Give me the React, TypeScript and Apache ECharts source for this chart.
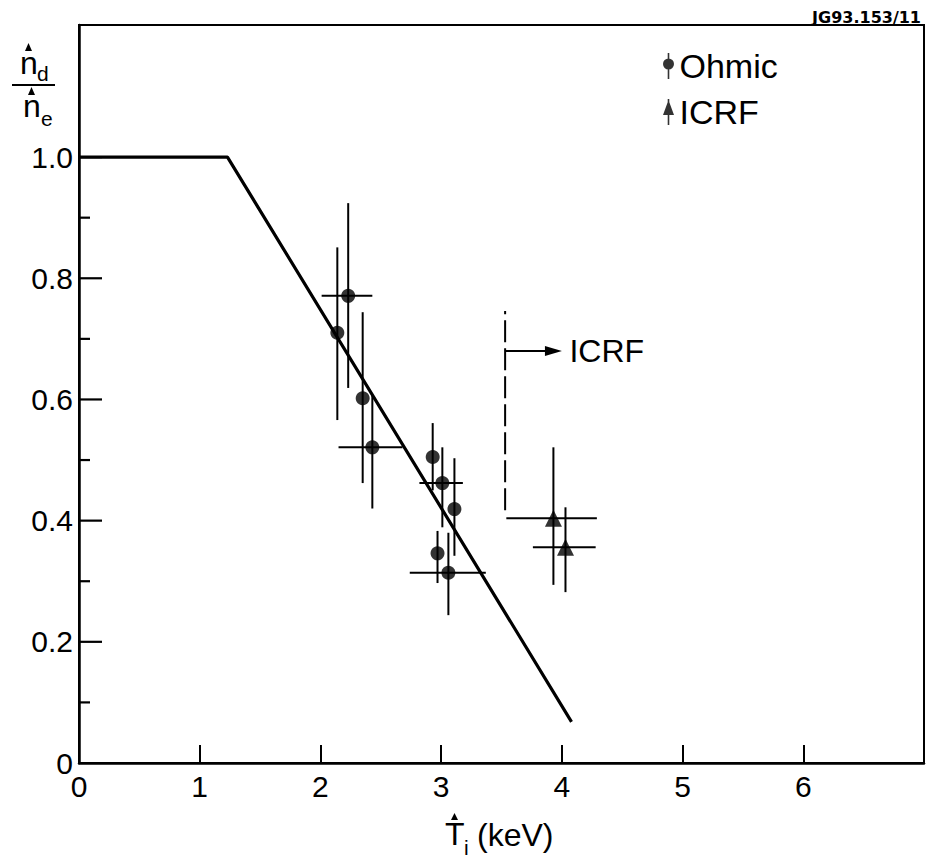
import React, { useEffect, useRef } from "react";
import * as echarts from "echarts";

// ---- data ----
const xTicks = [0, 1, 2, 3, 4, 5, 6];
const yLabelTicks = [0, 0.2, 0.4, 0.6, 0.8, 1.0];
const yMajorTicks = [0.2, 0.4, 0.6, 0.8, 1.0];
const yMinorTicks = [0.1, 0.3, 0.5, 0.7, 0.9];

// model line (n_d/n_e vs T_i)
const lineTi = [0, 1.23, 4.08];
const lineRatio = [1.0, 1.0, 0.068];

// Ohmic points
const ohmicTi = [2.23, 2.14, 2.35, 2.43, 2.93, 3.01, 3.11, 2.97, 3.06];
const ohmicRatio = [0.771, 0.71, 0.602, 0.521, 0.505, 0.462, 0.419, 0.346, 0.314];
const ohmicRatioLo = [0.619, 0.566, 0.462, 0.42, 0.45, 0.389, 0.342, 0.297, 0.244];
const ohmicRatioHi = [0.924, 0.851, 0.744, 0.607, 0.561, 0.521, 0.503, 0.383, 0.38];
const ohmicTiLo = [2.01, null, null, 2.15, null, 2.82, null, null, 2.74];
const ohmicTiHi = [2.43, null, null, 2.68, null, 3.18, null, null, 3.37];

// ICRF points
const icrfTi = [3.93, 4.03];
const icrfRatio = [0.404, 0.356];
const icrfRatioLo = [0.294, 0.282];
const icrfRatioHi = [0.521, 0.422];
const icrfTiLo = [3.54, 3.76];
const icrfTiHi = [4.29, 4.28];

// ICRF threshold annotation
const markTi = [3.53, 3.53];
const markRatio = [0.417, 0.746];
const arrowTi = [3.53, 3.93];
const arrowRatio = [0.68, 0.68];

const FONT = '"Liberation Sans", Arial, Helvetica, sans-serif';

function rows(x: number[], y: number[], ylo: number[], yhi: number[], xlo: (number | null)[], xhi: (number | null)[]) {
  return x.map((v, i) => [v, y[i], ylo[i], yhi[i], xlo[i] == null ? NaN : xlo[i], xhi[i] == null ? NaN : xhi[i]]);
}

function errorRender(params: any, api: any) {
  const x = api.value(0);
  const y = api.value(1);
  const ylo = api.value(2);
  const yhi = api.value(3);
  const xlo = api.value(4);
  const xhi = api.value(5);
  const children: any[] = [];
  const a = api.coord([x, ylo]);
  const b = api.coord([x, yhi]);
  children.push({
    type: "line",
    shape: { x1: a[0], y1: a[1], x2: b[0], y2: b[1] },
    style: { stroke: "#000", lineWidth: 2 },
  });
  if (Number.isFinite(xlo) && Number.isFinite(xhi)) {
    const c = api.coord([xlo, y]);
    const d = api.coord([xhi, y]);
    children.push({
      type: "line",
      shape: { x1: c[0], y1: c[1], x2: d[0], y2: d[1] },
      style: { stroke: "#000", lineWidth: 2 },
    });
  }
  return { type: "group", children };
}

// all y ticks in one custom series: [xAtAxis, value, isMajor]
const yTickRows = [
  ...yMajorTicks.map((v) => [0, v, 1]),
  ...yMinorTicks.map((v) => [0, v, 0]),
];

function tickRender(params: any, api: any) {
  const p = api.coord([api.value(0), api.value(1)]);
  const len = api.value(2) === 1 ? 23 : 11;
  return {
    type: "line",
    shape: { x1: p[0], y1: p[1], x2: p[0] + len, y2: p[1] },
    style: { stroke: "#000", lineWidth: 2.2 },
  };
}

const ohmicIcon = "path://M5.2 0H6.8V26H5.2Z M0.5 11A5.5 5.5 0 1 1 11.5 11A5.5 5.5 0 1 1 0.5 11Z";
const icrfIcon = "path://M5.2 0H6.8V26H5.2Z M6 1L11.5 16H0.5Z";

export default function App() {
  const ref = useRef<HTMLDivElement>(null);
  useEffect(() => {
    if (!ref.current) return;
    const chart = echarts.init(ref.current, null, { renderer: "svg" });
    const option: any = {
      animation: false,
      backgroundColor: "#fff",
      grid: {
        left: 79,
        right: 2,
        top: 25,
        bottom: 99,
        show: true,
        borderColor: "#000",
        borderWidth: 2,
        containLabel: false,
      },
      legend: {
        orient: "vertical",
        left: 658,
        top: 44,
        itemWidth: 12,
        itemHeight: 26,
        itemGap: 12,
        textStyle: { fontSize: 34, fontFamily: FONT, color: "#000", lineHeight: 32 },
        data: [
          { name: "Ohmic", icon: ohmicIcon },
          { name: "ICRF", icon: icrfIcon },
        ],
      },
      xAxis: {
        type: "value",
        min: 0,
        max: 7,
        interval: 1,
        splitLine: { show: false },
        axisLine: { show: true, lineStyle: { color: "#000", width: 2.5 } },
        axisTick: { show: true, inside: true, length: 18, lineStyle: { color: "#000", width: 2 } },
        axisLabel: {
          show: true,
          customValues: xTicks,
          formatter: (v: number) => String(v),
          fontSize: 30,
          fontFamily: FONT,
          color: "#000",
          margin: 8,
        },
      },
      yAxis: {
        type: "value",
        min: 0,
        max: 1.218,
        splitLine: { show: false },
        axisLine: { show: true, lineStyle: { color: "#000", width: 2.5 } },
        axisTick: { show: false },
        axisLabel: {
          show: true,
          customValues: yLabelTicks,
          formatter: (v: number) => (v === 0 ? "0" : v.toFixed(1)),
          fontSize: 30,
          fontFamily: FONT,
          color: "#000",
          margin: 6,
        },
      },
      series: [
        {
          name: "yTicks",
          type: "custom",
          renderItem: tickRender,
          data: yTickRows,
          encode: { x: 0, y: 1 },
          silent: true,
          z: 6,
        },
        {
          name: "model",
          type: "line",
          data: lineTi.map((v, i) => [v, lineRatio[i]]),
          symbol: "none",
          lineStyle: { color: "#000", width: 3.2 },
          z: 3,
        },
        {
          name: "threshold",
          type: "line",
          data: markTi.map((v, i) => [v, markRatio[i]]),
          symbol: "none",
          lineStyle: { color: "#000", width: 2, type: [22, 6] },
          markLine: {
            silent: true,
            symbol: ["none", "triangle"],
            symbolSize: [10, 17],
            lineStyle: { color: "#000", width: 2, type: "solid" },
            label: {
              show: true,
              position: "end",
              formatter: "ICRF",
              fontSize: 32,
              fontFamily: FONT,
              color: "#000",
              distance: 16,
            },
            data: [
              [
                { coord: [arrowTi[0], arrowRatio[0]] },
                { coord: [arrowTi[1], arrowRatio[1]] },
              ],
            ],
          },
        },
        {
          name: "ohmicErr",
          type: "custom",
          renderItem: errorRender,
          data: rows(ohmicTi, ohmicRatio, ohmicRatioLo, ohmicRatioHi, ohmicTiLo, ohmicTiHi),
          encode: { x: 0, y: 1 },
          z: 4,
        },
        {
          name: "icrfErr",
          type: "custom",
          renderItem: errorRender,
          data: rows(icrfTi, icrfRatio, icrfRatioLo, icrfRatioHi, icrfTiLo, icrfTiHi),
          encode: { x: 0, y: 1 },
          z: 4,
        },
        {
          name: "Ohmic",
          type: "scatter",
          symbol: "circle",
          symbolSize: 14,
          itemStyle: { color: "#000" },
          data: ohmicTi.map((v, i) => [v, ohmicRatio[i]]),
          z: 5,
        },
        {
          name: "ICRF",
          type: "scatter",
          symbol: "triangle",
          symbolSize: 17,
          itemStyle: { color: "#000" },
          data: icrfTi.map((v, i) => [v, icrfRatio[i]]),
          z: 5,
        },
      ],
      graphic: [
        {
          type: "text",
          style: {
            text: "JG93.153/11",
            x: 921,
            y: 9,
            textAlign: "right",
            align: "right",
            textVerticalAlign: "top",
            verticalAlign: "top",
            font: 'bold 16px "DejaVu Sans", sans-serif',
            fill: "#000",
          },
        },
        // y-axis title: n̂_d / n̂_e
        { type: "text", style: { text: "n", x: 20, y: 63, textVerticalAlign: "middle", verticalAlign: "middle", font: `32px ${FONT}`, fill: "#000" } },
        { type: "polygon", shape: { points: [[25, 51], [28.5, 43], [32, 51]] }, style: { fill: "#000" } },
        { type: "text", style: { text: "d", x: 37, y: 73, textVerticalAlign: "middle", verticalAlign: "middle", font: `21px ${FONT}`, fill: "#000" } },
        { type: "line", shape: { x1: 12, y1: 85, x2: 55, y2: 85 }, style: { stroke: "#000", lineWidth: 2 } },
        { type: "text", style: { text: "n", x: 23, y: 106, textVerticalAlign: "middle", verticalAlign: "middle", font: `32px ${FONT}`, fill: "#000" } },
        { type: "polygon", shape: { points: [[28, 95], [31.5, 87], [35, 95]] }, style: { fill: "#000" } },
        { type: "text", style: { text: "e", x: 41, y: 118, textVerticalAlign: "middle", verticalAlign: "middle", font: `21px ${FONT}`, fill: "#000" } },
        // x-axis title: T̂_i (keV)
        { type: "text", style: { text: "T", x: 445, y: 834, textVerticalAlign: "middle", verticalAlign: "middle", font: `32px ${FONT}`, fill: "#000" } },
        { type: "polygon", shape: { points: [[451, 820], [454.5, 813], [458, 820]] }, style: { fill: "#000" } },
        { type: "text", style: { text: "i", x: 464, y: 847, textVerticalAlign: "middle", verticalAlign: "middle", font: `21px ${FONT}`, fill: "#000" } },
        { type: "text", style: { text: "(keV)", x: 477, y: 835, textVerticalAlign: "middle", verticalAlign: "middle", font: `32px ${FONT}`, fill: "#000" } },
      ],
    };
    chart.setOption(option);
    return () => chart.dispose();
  }, []);
  return (
    <div
      ref={ref}
      style={{ position: "absolute", left: 0, top: 0, width: 926, height: 862, background: "#fff" }}
    />
  );
}
